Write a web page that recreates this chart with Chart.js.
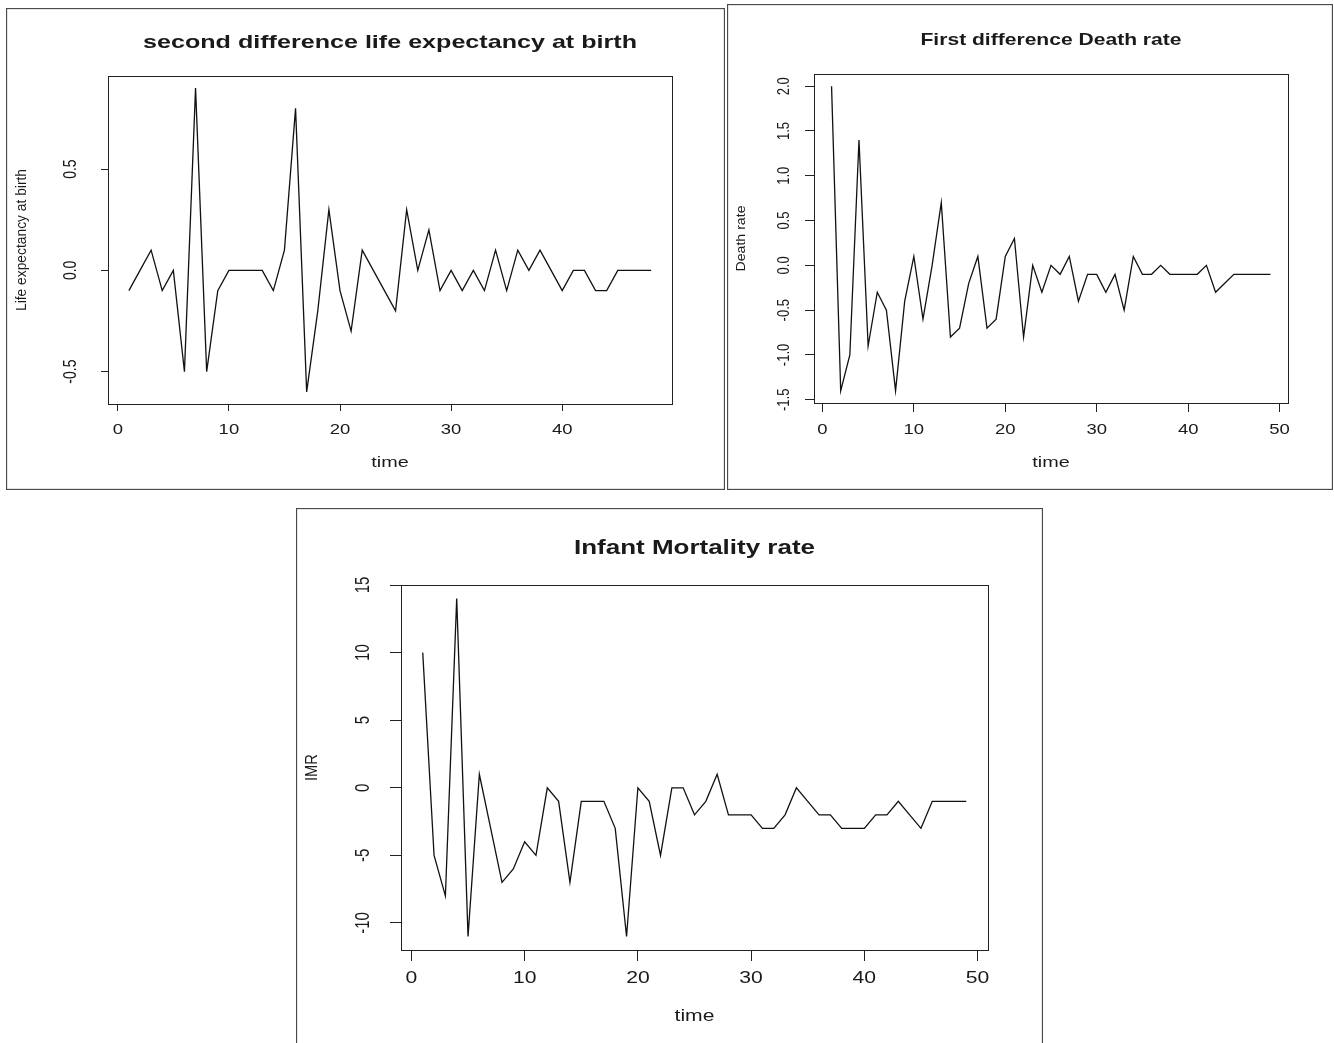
<!DOCTYPE html>
<html>
<head>
<meta charset="utf-8">
<script src="https://cdn.jsdelivr.net/npm/chart.js@4.4.1/dist/chart.umd.min.js"></script>
<style>
  html, body { margin: 0; padding: 0; background: #fff; overflow: hidden; width: 1334px; height: 1043px; }
  canvas { position: absolute; }
</style>
</head>
<body>
<canvas id="lifeChart" width="719" height="482" style="left:6px;top:8px"></canvas>
<canvas id="deathChart" width="606" height="486" style="left:727px;top:4px"></canvas>
<canvas id="imrChart" width="747" height="540" style="left:296px;top:508px"></canvas>

<script>
// second difference of life expectancy at birth, t = 1..48
const lifeExpDiff2 = [
  -0.1, 0.0, 0.1, -0.1, 0.0, -0.5, 0.9, -0.5, -0.1, 0.0,
  0.0, 0.0, 0.0, -0.1, 0.1, 0.8, -0.6, -0.2, 0.3, -0.1,
  -0.3, 0.1, 0.0, -0.1, -0.2, 0.3, 0.0, 0.2, -0.1, 0.0,
  -0.1, 0.0, -0.1, 0.1, -0.1, 0.1, 0.0, 0.1, 0.0, -0.1,
  0.0, 0.0, -0.1, -0.1, 0.0, 0.0, 0.0, 0.0
];
// first difference of death rate, t = 1..49
const deathRateDiff1 = [
  2.0, -1.4, -1.0, 1.4, -0.9, -0.3, -0.5, -1.4, -0.4, 0.1,
  -0.6, 0.0, 0.7, -0.8, -0.7, -0.2, 0.1, -0.7, -0.6, 0.1,
  0.3, -0.8, 0.0, -0.3, 0.0, -0.1, 0.1, -0.4, -0.1, -0.1,
  -0.3, -0.1, -0.5, 0.1, -0.1, -0.1, 0.0, -0.1, -0.1, -0.1,
  -0.1, 0.0, -0.3, -0.2, -0.1, -0.1, -0.1, -0.1, -0.1
];
// infant mortality rate, t = 1..49
const imrValues = [
  10, -5, -8, 14, -11, 1, -3, -7, -6, -4,
  -5, 0, -1, -7, -1, -1, -1, -3, -11, 0,
  -1, -5, 0, 0, -2, -1, 1, -2, -2, -2,
  -3, -3, -2, 0, -1, -2, -2, -3, -3, -3,
  -2, -2, -1, -2, -3, -1, -1, -1, -1
];

const lifeTime = lifeExpDiff2.map((_, i) => i + 1);
const deathTime = deathRateDiff1.map((_, i) => i + 1);
const imrTime = imrValues.map((_, i) => i + 1);

const lifeXTicks = [0, 10, 20, 30, 40];
const lifeYTicks = [-0.5, 0, 0.5];
const lifeYTickLabels = ['-0.5', '0.0', '0.5'];

const deathXTicks = [0, 10, 20, 30, 40, 50];
const deathYTicks = [-1.5, -1.0, -0.5, 0, 0.5, 1.0, 1.5, 2.0];
const deathYTickLabels = ['-1.5', '-1.0', '-0.5', '0.0', '0.5', '1.0', '1.5', '2.0'];

const imrXTicks = [0, 10, 20, 30, 40, 50];
const imrYTicks = [-10, -5, 0, 5, 10, 15];
const imrYTickLabels = ['-10', '-5', '0', '5', '10', '15'];

const FONT = "'Liberation Sans', Arial, sans-serif";

function drawLabel(ctx, s, x, y, font, opt) {
  ctx.save();
  ctx.font = font;
  ctx.fillStyle = '#1a1a1a';
  ctx.textAlign = 'center';
  ctx.textBaseline = 'middle';
  ctx.translate(x, y);
  const w = ctx.measureText(s).width;
  if (opt.rotate) {
    ctx.scale(opt.thick || 1, 1);
    ctx.rotate(-Math.PI / 2);
    if (opt.len) ctx.scale(opt.len / w, 1);
  } else {
    ctx.scale(opt.len ? opt.len / w : (opt.sx || 1), 1);
  }
  ctx.fillText(s, 0, 0);
  ctx.restore();
}

function makeChart(id, p) {
  const canvas = document.getElementById(id);

  const decor = {
    id: 'decor_' + id,
    afterDraw(chart) {
      const ctx = chart.ctx;
      const a = chart.chartArea;
      const xs = chart.scales.x, ys = chart.scales.y;
      const cx = (a.left + a.right) / 2;
      const cy = (a.top + a.bottom) / 2;

      // outer panel frame
      ctx.save();
      ctx.strokeStyle = '#4a4a4a';
      ctx.lineWidth = 1.3;
      ctx.strokeRect(0.5, 0.5, chart.width - 1, chart.height - 1);
      // plot box
      ctx.strokeStyle = '#222';
      ctx.lineWidth = 1;
      ctx.strokeRect(Math.round(a.left) + 0.5, Math.round(a.top) + 0.5,
        Math.round(a.right - a.left), Math.round(a.bottom - a.top));
      ctx.restore();

      // title
      drawLabel(ctx, p.title, cx, p.titleY, 'bold ' + p.titleSize + 'px ' + FONT, { len: p.titleLen });

      // x tick labels
      p.xTicks.forEach(v => {
        drawLabel(ctx, String(v), xs.getPixelForValue(v), p.xTickY, p.tickSize + 'px ' + FONT, { sx: 1.32 });
      });
      // y tick labels (rotated, as in base R)
      p.yTicks.forEach((v, i) => {
        drawLabel(ctx, p.yTickLabels[i], p.yTickX, ys.getPixelForValue(v), p.yTickSize + 'px ' + FONT, { rotate: true, thick: 1.3 });
      });

      // axis titles
      drawLabel(ctx, 'time', cx, p.xLabelY, p.xLabelSize + 'px ' + FONT, { sx: 1.32 });
      drawLabel(ctx, p.yLabel, p.yLabelX, cy, p.yLabelSize + 'px ' + FONT, { rotate: true, len: p.yLabelLen, thick: 1.0 });
    }
  };

  return new Chart(canvas.getContext('2d'), {
    type: 'line',
    data: {
      datasets: [{
        data: p.values.map((v, i) => ({ x: p.time[i], y: v })),
        borderColor: '#111',
        borderWidth: 1.3,
        pointRadius: 0,
        tension: 0,
        fill: false
      }]
    },
    options: {
      responsive: false,
      animation: false,
      devicePixelRatio: 1,
      layout: { padding: { top: p.padTop, right: p.padRight, left: 0, bottom: 0 } },
      plugins: { legend: { display: false }, tooltip: { enabled: false }, title: { display: false } },
      scales: {
        x: {
          type: 'linear',
          min: p.xMin, max: p.xMax,
          afterBuildTicks: s => { s.ticks = p.xTicks.map(v => ({ value: v })); },
          afterFit: s => { s.height = p.xAxisH; },
          ticks: { display: false },
          border: { display: false },
          grid: { drawOnChartArea: false, drawTicks: true, tickLength: p.tickLen, color: '#222', lineWidth: 1 }
        },
        y: {
          type: 'linear',
          min: p.yMin, max: p.yMax,
          afterBuildTicks: s => { s.ticks = p.yTicks.map(v => ({ value: v })); },
          afterFit: s => { s.width = p.yAxisW; },
          ticks: { display: false },
          border: { display: false },
          grid: { drawOnChartArea: false, drawTicks: true, tickLength: p.tickLen, color: '#222', lineWidth: 1 }
        }
      }
    },
    plugins: [decor]
  });
}

makeChart('lifeChart', {
  values: lifeExpDiff2, time: lifeTime,
  xTicks: lifeXTicks, yTicks: lifeYTicks, yTickLabels: lifeYTickLabels,
  xMin: -0.88, xMax: 49.88, yMin: -0.66, yMax: 0.96,
  padTop: 68, padRight: 53, xAxisH: 86, yAxisW: 102, tickLen: 7,
  title: 'second difference life expectancy at birth', titleY: 35, titleSize: 19, titleLen: 494,
  tickSize: 14, xTickY: 422, yTickSize: 14, yTickX: 65,
  xLabelY: 455, xLabelSize: 15,
  yLabel: 'Life expectancy at birth', yLabelX: 16, yLabelSize: 14, yLabelLen: 142
});

makeChart('deathChart', {
  values: deathRateDiff1, time: deathTime,
  xTicks: deathXTicks, yTicks: deathYTicks, yTickLabels: deathYTickLabels,
  xMin: -0.92, xMax: 50.92, yMin: -1.536, yMax: 2.136,
  padTop: 70, padRight: 45, xAxisH: 87, yAxisW: 87, tickLen: 9,
  title: 'First difference Death rate', titleY: 36, titleSize: 17, titleLen: 261,
  tickSize: 14, xTickY: 426, yTickSize: 13, yTickX: 57,
  xLabelY: 459, xLabelSize: 15,
  yLabel: 'Death rate', yLabelX: 14, yLabelSize: 13, yLabelLen: 66
});

makeChart('imrChart', {
  values: imrValues, time: imrTime,
  xTicks: imrXTicks, yTicks: imrYTicks, yTickLabels: imrYTickLabels,
  xMin: -0.92, xMax: 50.92, yMin: -12, yMax: 15,
  padTop: 77, padRight: 55, xAxisH: 98, yAxisW: 105, tickLen: 11,
  title: 'Infant Mortality rate', titleY: 40, titleSize: 20, titleLen: 241,
  tickSize: 16, xTickY: 471, yTickSize: 15, yTickX: 68,
  xLabelY: 509, xLabelSize: 16,
  yLabel: 'IMR', yLabelX: 17, yLabelSize: 16, yLabelLen: 27
});
</script>
</body>
</html>
